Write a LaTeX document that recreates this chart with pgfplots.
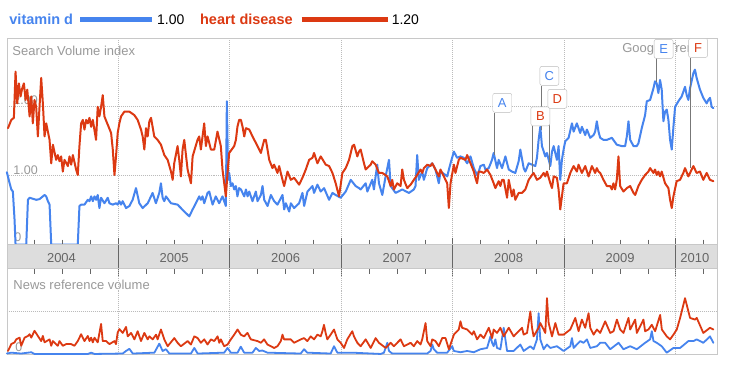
\documentclass[border=0pt]{standalone}
\usepackage{pgfplots}
\pgfplotsset{compat=1.18}
\usepackage{fontspec}
\setmainfont{Liberation Sans}
\definecolor{gblue}{HTML}{4684EE}
\definecolor{gred}{HTML}{DC3912}
\definecolor{gridc}{HTML}{BBBBBB}
\definecolor{framec}{HTML}{C8C8C8}
\definecolor{lblc}{HTML}{999999}
\definecolor{bandc}{HTML}{DDDDDD}
\definecolor{tickc}{HTML}{666666}
\definecolor{polec}{HTML}{777777}
\pgfplotsset{
  gt/.style={scale only axis, width=711.4pt, xmin=2004, xmax=2010.369,
    axis line style={draw=framec}, xticklabels={}, yticklabels={},
    major tick length=0pt, tick style={draw=none}, clip=false},
  ser/.style={line width=2pt, line join=round, line cap=round},
}
\tikzset{yl/.style={anchor=base, inner sep=0, font=\fontsize{13}{15}\selectfont, text=tickc}}
\begin{document}
\begin{tikzpicture}[x=1pt,y=1pt]
\path[fill=white] (0,0) rectangle (732,368);
% legend
\node[anchor=base west, inner sep=0, font=\fontsize{14.5}{16}\selectfont\bfseries, text=gblue] at (8,343) {vitamin d};
\draw[gblue, line width=5pt] (79,348) -- (151,348);
\node[anchor=base west, inner sep=0, font=\fontsize{14}{16}\selectfont] at (156,343) {1.00};
\node[anchor=base west, inner sep=0, font=\fontsize{14.5}{16}\selectfont\bfseries, text=gred] at (199,343) {heart disease};
\draw[gred, line width=5pt] (301,348) -- (387,348);
\node[anchor=base west, inner sep=0, font=\fontsize{14}{16}\selectfont] at (391,343) {1.20};
% panel labels
\node[anchor=base west, inner sep=0, font=\fontsize{13}{15}\selectfont, text=lblc] at (11,312) {Search Volume index};
\node[anchor=base west, inner sep=0, font=\fontsize{12.5}{15}\selectfont, text=lblc] at (12,263) {2.00};
\node[anchor=base west, inner sep=0, font=\fontsize{12.5}{15}\selectfont, text=lblc] at (12,193) {1.00};
\node[anchor=base west, inner sep=0, font=\fontsize{12.5}{15}\selectfont, text=lblc] at (13,126) {0};
\node[anchor=base west, inner sep=0, font=\fontsize{13}{15}\selectfont, text=lblc] at (12,78) {News reference volume};
\node[anchor=base west, inner sep=0, font=\fontsize{12.5}{15}\selectfont, text=lblc] at (14,16) {0};
\node[anchor=base west, inner sep=0, font=\fontsize{13}{15}\selectfont, text=lblc] at (622,315) {Google Trends};

% ---------------- main panel ----------------
\begin{axis}[gt, at={(5.6pt,123pt)}, anchor=south west, height=207pt,
  ymin=0, ymax=3, xtick={2005,2006,2007,2008,2009,2010}, ytick={1,2},
  grid=major, major grid style={draw=gridc, line width=0.8pt, dash pattern=on 1pt off 1pt}]
% vitamin d
\addplot[ser, gblue] coordinates {
(2004.000,1.05)(2004.025,0.89)(2004.040,0.80)(2004.054,0.77)(2004.069,0.36)(2004.078,0)(2004.174,0)(2004.189,0.65)(2004.204,0.68)(2004.263,0.65)(2004.293,0.66)(2004.323,0.70)(2004.338,0.72)(2004.353,0.70)(2004.368,0.63)(2004.383,0.58)(2004.398,0)(2004.636,0)(2004.651,0.56)(2004.666,0.58)(2004.696,0.58)(2004.726,0.65)(2004.741,0.63)(2004.756,0.70)(2004.771,0.63)(2004.786,0.70)(2004.800,0.65)(2004.815,0.72)(2004.830,0.53)(2004.845,0.68)(2004.875,0.60)(2004.905,0.68)(2004.920,0.60)(2004.950,0.58)(2004.979,0.60)(2004.994,0.58)(2005.009,0.63)
(2005.024,0.58)(2005.039,0.63)(2005.069,0.53)(2005.099,0.56)(2005.128,0.65)(2005.158,0.82)(2005.188,0.60)(2005.218,0.53)(2005.263,0.60)(2005.293,0.70)(2005.307,0.75)(2005.337,0.60)(2005.367,0.75)(2005.382,0.89)(2005.397,0.68)(2005.412,0.63)(2005.427,0.70)(2005.472,0.60)(2005.531,0.58)(2005.561,0.53)(2005.591,0.48)(2005.636,0.41)(2005.666,0.51)(2005.695,0.60)(2005.725,0.70)(2005.740,0.65)(2005.755,0.70)(2005.770,0.60)(2005.800,0.75)(2005.815,0.77)(2005.845,0.58)(2005.874,0.70)(2005.904,0.60)(2005.934,0.70)(2005.964,0.56)(2005.973,2.08)(2005.985,0.94)(2005.994,1.04)(2006.009,0.85)(2006.024,0.89)(2006.039,0.80)(2006.054,0.85)(2006.068,0.70)(2006.083,0.82)
(2006.099,0.80)(2006.129,0.70)(2006.144,0.80)(2006.159,0.70)(2006.174,0.77)(2006.203,0.63)(2006.233,0.77)(2006.248,0.63)(2006.278,0.72)(2006.293,0.85)(2006.308,0.65)(2006.338,0.56)(2006.368,0.72)(2006.397,0.63)(2006.427,0.58)(2006.472,0.72)(2006.487,0.51)(2006.502,0.60)(2006.532,0.48)(2006.547,0.60)(2006.576,0.53)(2006.621,0.60)(2006.651,0.75)(2006.666,0.56)(2006.696,0.77)(2006.741,0.85)(2006.755,0.75)(2006.785,0.87)(2006.815,0.77)(2006.845,0.82)(2006.890,0.65)(2006.920,0.75)(2006.949,0.72)(2006.994,0.68)(2007.039,0.77)(2007.084,0.94)(2007.128,0.85)(2007.158,0.82)
(2007.173,0.80)(2007.218,0.89)(2007.233,0.77)(2007.277,0.94)(2007.292,0.80)(2007.307,0.99)(2007.322,1.16)(2007.337,0.89)(2007.367,0.72)(2007.397,0.99)(2007.427,1.23)(2007.442,0.85)(2007.486,0.75)(2007.546,0.80)(2007.606,0.75)(2007.650,0.80)(2007.665,0.85)(2007.680,1.30)(2007.695,0.94)(2007.725,1.06)(2007.740,0.94)(2007.770,1.11)(2007.815,1.18)(2007.844,1.09)(2007.874,0.89)(2007.889,1.06)(2007.934,1.01)(2007.949,0.99)(2007.979,1.18)(2008.009,1.35)(2008.038,1.26)(2008.068,1.28)(2008.098,1.26)(2008.128,1.18)(2008.158,1.28)(2008.188,1.11)(2008.217,1.01)(2008.232,1.06)
(2008.247,1.14)(2008.277,1.16)(2008.292,1.09)(2008.322,1.11)(2008.351,1.23)(2008.366,1.33)(2008.396,1.11)(2008.411,1.23)(2008.441,1.11)(2008.471,1.28)(2008.501,1.09)(2008.530,1.06)(2008.560,1.04)(2008.590,1.21)(2008.605,1.38)(2008.635,1.11)(2008.650,1.06)(2008.680,1.18)(2008.710,1.16)(2008.739,1.14)(2008.754,1.26)(2008.769,1.52)(2008.784,1.71)(2008.799,1.43)(2008.829,1.28)(2008.844,1.33)(2008.874,1.14)(2008.889,1.35)(2008.904,1.43)(2008.933,1.23)(2008.948,1.43)(2008.963,0.94)(2008.978,1.23)(2008.993,1.38)(2009.008,1.50)(2009.038,1.55)(2009.068,1.76)(2009.083,1.64)(2009.112,1.76)(2009.142,1.62)(2009.157,1.71)(2009.187,1.59)(2009.202,1.67)(2009.232,1.55)(2009.262,1.59)(2009.276,1.64)(2009.291,1.79)(2009.306,1.64)
(2009.321,1.55)(2009.351,1.52)(2009.381,1.52)(2009.426,1.55)(2009.470,1.45)(2009.515,1.43)(2009.545,1.43)(2009.560,1.57)(2009.575,1.79)(2009.590,1.52)(2009.620,1.43)(2009.649,1.43)(2009.664,1.47)(2009.694,1.69)(2009.724,1.88)(2009.739,2.08)(2009.769,2.10)(2009.799,2.27)(2009.813,2.37)(2009.828,2.34)(2009.843,2.20)(2009.858,2.39)(2009.873,2.25)(2009.888,1.79)(2009.903,1.93)(2009.918,1.96)(2009.933,1.81)(2009.948,1.52)(2009.963,1.38)(2009.978,1.71)(2009.993,2.00)(2010.022,2.08)(2010.052,2.15)(2010.082,2.29)(2010.097,2.17)(2010.112,2.10)(2010.127,2.27)(2010.157,2.49)(2010.171,2.54)(2010.186,2.42)(2010.216,2.25)(2010.246,2.13)(2010.276,2.05)(2010.291,2.10)(2010.306,2.13)(2010.321,2.00)(2010.336,1.98)
};
% heart disease
\addplot[ser, gred] coordinates {
(2004.010,1.69)(2004.040,1.81)(2004.063,1.84)(2004.078,2.51)(2004.093,2.05)(2004.108,2.34)(2004.123,2.15)(2004.138,2.27)(2004.153,2.34)(2004.168,2.10)(2004.183,2.25)(2004.204,1.86)(2004.219,2.15)(2004.233,1.76)(2004.248,2.10)(2004.263,2.00)(2004.278,1.57)(2004.293,2.00)(2004.308,2.42)(2004.323,2.05)(2004.338,1.57)(2004.353,1.76)(2004.383,1.52)(2004.398,1.18)(2004.413,1.45)(2004.442,1.23)(2004.457,1.30)(2004.472,1.21)(2004.487,1.28)(2004.502,1.06)(2004.517,1.23)(2004.547,1.14)(2004.562,1.28)(2004.577,1.16)(2004.592,1.30)(2004.621,1.09)(2004.636,1.01)(2004.651,1.43)(2004.666,1.76)(2004.681,1.81)(2004.696,1.67)(2004.711,1.81)(2004.726,1.76)(2004.741,1.84)(2004.756,1.71)(2004.771,1.81)(2004.800,1.52)(2004.815,2.00)(2004.830,1.86)(2004.845,2.00)(2004.860,2.17)(2004.875,1.86)(2004.905,1.74)(2004.935,1.62)(2004.950,1.38)(2004.965,1.01)(2004.979,1.28)(2004.994,1.62)(2005.009,1.76)
(2005.024,1.86)(2005.054,1.93)(2005.099,1.93)(2005.143,1.88)(2005.173,1.81)(2005.203,1.67)(2005.218,1.57)(2005.233,1.38)(2005.248,1.69)(2005.263,1.57)(2005.278,1.79)(2005.293,1.84)(2005.322,1.57)(2005.352,1.52)(2005.382,1.45)(2005.412,1.30)(2005.442,1.23)(2005.472,1.06)(2005.487,0.94)(2005.501,1.18)(2005.531,1.43)(2005.546,1.23)(2005.561,0.99)(2005.576,1.38)(2005.591,1.52)(2005.621,1.09)(2005.651,0.89)(2005.666,1.28)(2005.710,1.52)(2005.725,1.57)(2005.740,1.38)(2005.770,1.76)(2005.785,1.43)(2005.800,1.57)(2005.830,1.38)(2005.860,1.38)(2005.889,1.64)(2005.919,1.43)(2005.934,1.09)(2005.964,0.70)(2005.979,1.04)(2005.994,1.33)(2006.039,1.43)(2006.054,1.52)(2006.068,1.71)(2006.083,1.81)
(2006.099,1.81)(2006.114,1.71)(2006.129,1.57)(2006.144,1.69)(2006.174,1.67)(2006.203,1.57)(2006.248,1.43)(2006.278,1.33)(2006.308,1.52)(2006.323,1.52)(2006.353,1.23)(2006.382,1.11)(2006.397,1.16)(2006.427,1.04)(2006.442,1.14)(2006.472,0.94)(2006.487,0.85)(2006.517,1.06)(2006.547,0.94)(2006.576,0.97)(2006.621,0.87)(2006.651,0.97)(2006.681,1.09)(2006.711,1.23)(2006.741,1.26)(2006.755,1.33)(2006.785,1.18)(2006.815,1.28)(2006.860,1.16)(2006.890,1.14)(2006.920,1.04)(2006.949,0.89)(2006.979,0.70)(2007.009,1.04)(2007.039,1.11)(2007.069,1.23)(2007.099,1.43)(2007.114,1.45)(2007.143,1.28)(2007.158,1.35)
(2007.173,1.38)(2007.203,1.18)(2007.218,1.09)(2007.263,1.16)(2007.277,1.21)(2007.307,1.16)(2007.337,1.04)(2007.367,1.04)(2007.412,0.99)(2007.442,0.85)(2007.456,0.94)(2007.471,0.80)(2007.501,0.89)(2007.531,0.85)(2007.546,1.09)(2007.561,0.94)(2007.591,0.82)(2007.621,0.87)(2007.650,0.94)(2007.680,1.01)(2007.710,1.09)(2007.725,1.04)(2007.740,1.11)(2007.770,1.16)(2007.800,1.14)(2007.815,1.18)(2007.844,1.09)(2007.874,0.99)(2007.889,1.09)(2007.919,0.99)(2007.949,0.89)(2007.964,0.53)(2007.979,0.89)(2008.009,1.16)(2008.023,1.04)(2008.053,1.23)(2008.068,1.26)(2008.113,1.23)(2008.128,1.30)(2008.158,1.18)(2008.188,1.06)(2008.202,0.97)(2008.217,0.89)(2008.232,1.06)
(2008.247,1.06)(2008.277,1.04)(2008.307,1.09)(2008.337,1.01)(2008.366,0.89)(2008.381,0.82)(2008.411,0.92)(2008.426,0.85)(2008.441,0.94)(2008.456,0.94)(2008.486,0.68)(2008.501,0.94)(2008.530,0.70)(2008.545,0.80)(2008.560,0.65)(2008.590,0.75)(2008.620,0.75)(2008.650,0.80)(2008.680,0.94)(2008.710,1.01)(2008.724,1.04)(2008.754,0.94)(2008.784,0.97)(2008.814,1.04)(2008.829,0.99)(2008.844,1.06)(2008.874,0.89)(2008.889,0.82)(2008.904,0.99)(2008.933,0.97)(2008.948,0.80)(2008.963,0.51)(2008.978,0.70)(2008.993,0.89)(2009.023,0.89)(2009.053,1.04)(2009.083,1.14)(2009.112,1.06)(2009.127,1.16)(2009.157,1.04)(2009.187,1.14)(2009.217,0.99)(2009.247,1.14)(2009.276,1.04)(2009.291,1.11)(2009.306,1.06)
(2009.321,1.04)(2009.351,0.94)(2009.381,0.85)(2009.411,0.85)(2009.426,0.80)(2009.440,0.89)(2009.455,0.80)(2009.470,0.94)(2009.485,1.28)(2009.500,0.85)(2009.530,0.77)(2009.560,0.82)(2009.590,0.85)(2009.620,0.75)(2009.635,0.72)(2009.664,0.85)(2009.694,0.94)(2009.724,1.01)(2009.754,1.06)(2009.769,1.11)(2009.799,1.04)(2009.813,1.09)(2009.828,1.01)(2009.843,1.06)(2009.858,0.99)(2009.873,1.06)(2009.903,0.89)(2009.933,0.82)(2009.948,0.65)(2009.963,0.53)(2009.978,0.70)(2010.007,0.92)(2010.037,0.94)(2010.067,1.04)(2010.082,1.11)(2010.112,0.99)(2010.157,1.14)(2010.186,1.04)(2010.216,1.06)(2010.246,0.94)(2010.276,1.04)(2010.306,0.94)(2010.336,0.92)
};
% event flags
\tikzset{flag/.style={draw=gridc, fill=white, rounded corners=2pt, minimum width=19pt, minimum height=19pt, inner sep=0pt, font=\fontsize{13}{15}\selectfont}}
\draw[polec, line width=0.8pt] (axis cs:2008.372,1.913) -- (axis cs:2008.372,1.304);
\draw[polec, line width=0.8pt] (axis cs:2008.794,2.304) -- (axis cs:2008.794,1.667);
\draw[polec, line width=0.8pt] (axis cs:2008.713,1.725) -- (axis cs:2008.713,1.043);
\draw[polec, line width=0.8pt] (axis cs:2008.865,1.971) -- (axis cs:2008.865,1.087);
\draw[polec, line width=0.8pt] (axis cs:2009.823,2.710) -- (axis cs:2009.823,2.362);
\draw[polec, line width=0.8pt] (axis cs:2010.127,2.710) -- (axis cs:2010.127,1.116);
\node[flag, text=gblue] at (axis cs:2008.443,2.058) {A};
\node[flag, text=gblue] at (axis cs:2008.865,2.449) {C};
\node[flag, text=gred] at (axis cs:2008.785,1.862) {B};
\node[flag, text=gred] at (axis cs:2008.937,2.116) {D};
\node[flag, text=gblue] at (axis cs:2009.890,2.841) {E};
\node[flag, text=gred] at (axis cs:2010.199,2.855) {F};
\end{axis}

% ---------------- year band ----------------
\begin{axis}[scale only axis, width=711.4pt, xmin=2004, xmax=2010.369,
  at={(5.6pt,99pt)}, anchor=south west, height=24pt, ymin=0, ymax=1,
  ytick=\empty, xtick={2005,2006,2007,2008,2009,2010},
  minor xtick={2004.25,2004.5,2004.75,2005.25,2005.5,2005.75,2006.25,2006.5,2006.75,2007.25,2007.5,2007.75,2008.25,2008.5,2008.75,2009.25,2009.5,2009.75,2010.25},
  xticklabels={}, xtick pos=both, tick align=outside,
  major tick length=7pt, minor tick length=5pt,
  tick style={draw=tickc, line width=0.8pt},
  xmajorgrids, major grid style={draw=tickc, line width=0.8pt, solid},
  axis background/.style={fill=bandc}, axis line style={draw=framec}, clip=false]
\addplot[draw=none] coordinates {(2004.5,0.5)};
\node[yl] at (axis cs:2004.49,0.25) {2004};
\node[yl] at (axis cs:2005.5,0.25) {2005};
\node[yl] at (axis cs:2006.5,0.25) {2006};
\node[yl] at (axis cs:2007.5,0.25) {2007};
\node[yl] at (axis cs:2008.5,0.25) {2008};
\node[yl] at (axis cs:2009.5,0.25) {2009};
\node[yl] at (axis cs:2010.17,0.25) {2010};
\end{axis}

% ---------------- news panel ----------------
\begin{axis}[gt, at={(5.6pt,13pt)}, anchor=south west, height=86pt,
  ymin=0, ymax=2, xtick={2005,2006,2007,2008,2009,2010}, ytick={1},
  grid=major, major grid style={draw=gridc, line width=0.8pt, dash pattern=on 1pt off 1pt}]
\addplot[ser, gblue, line width=1.8pt] coordinates {
(2004.000,0.02)(2004.040,0.04)(2004.129,0.02)(2004.219,0.05)(2004.248,0.01)(2004.726,0.01)(2004.756,0.04)(2004.786,0.01)(2005.039,0.02)(2005.069,0.08)(2005.099,0.13)(2005.129,0.02)(2005.323,0.04)(2005.367,0.25)(2005.397,0.08)(2005.427,0.12)(2005.457,0.02)(2005.651,0.02)(2005.681,0.15)(2005.711,0.02)(2005.949,0.04)(2005.979,0.15)(2006.009,0.04)(2006.069,0.04)(2006.098,0.18)(2006.128,0.04)(2006.203,0.04)(2006.233,0.15)(2006.263,0.08)(2006.292,0.09)(2006.337,0.04)(2006.636,0.02)(2006.665,0.12)(2006.695,0.04)(2006.904,0.02)(2006.934,0.19)(2006.964,0.04)(2007.098,0.04)(2007.352,0.01)(2007.382,0.04)(2007.412,0.27)(2007.427,0.08)(2007.456,0.02)(2007.770,0.02)(2007.800,0.08)(2007.815,0.23)(2007.829,0.12)(2007.859,0.04)(2007.949,0.04)(2007.994,0.19)(2008.009,0.08)(2008.068,0.05)(2008.128,0.08)(2008.188,0.05)(2008.247,0.12)(2008.307,0.15)(2008.337,0.42)(2008.352,0.27)(2008.366,0.19)(2008.381,0.35)(2008.396,0.15)(2008.426,0.12)(2008.456,0.62)(2008.471,0.35)(2008.486,0.08)(2008.545,0.08)(2008.605,0.23)(2008.635,0.08)(2008.695,0.19)(2008.724,0.12)(2008.754,0.35)(2008.769,0.96)(2008.784,0.35)(2008.814,0.12)(2008.844,0.23)(2008.874,0.15)(2008.933,0.19)(2008.993,0.08)(2009.053,0.19)(2009.068,0.38)(2009.083,0.15)(2009.142,0.31)(2009.172,0.27)(2009.202,0.35)(2009.232,0.15)(2009.292,0.19)(2009.321,0.27)(2009.366,0.27)(2009.411,0.12)(2009.486,0.27)(2009.530,0.12)(2009.590,0.19)(2009.650,0.12)(2009.724,0.27)(2009.769,0.35)(2009.784,0.54)(2009.799,0.31)(2009.829,0.27)(2009.873,0.19)(2009.918,0.04)(2009.978,0.15)(2010.038,0.15)(2010.112,0.31)(2010.157,0.31)(2010.187,0.35)(2010.246,0.27)(2010.291,0.38)(2010.306,0.42)(2010.336,0.27)
};
\addplot[ser, gred, line width=1.8pt] coordinates {
(2004.010,0.08)(2004.040,0.24)(2004.069,0.28)(2004.084,0.35)(2004.114,0.39)(2004.129,0.20)(2004.159,0.39)(2004.189,0.43)(2004.204,0.47)(2004.219,0.39)(2004.248,0.55)(2004.278,0.43)(2004.308,0.31)(2004.323,0.43)(2004.338,0.28)(2004.383,0.35)(2004.398,0.20)(2004.413,0.31)(2004.457,0.20)(2004.472,0.31)(2004.502,0.20)(2004.532,0.24)(2004.577,0.24)(2004.606,0.20)(2004.636,0.31)(2004.666,0.47)(2004.696,0.31)(2004.726,0.43)(2004.741,0.31)(2004.756,0.39)(2004.771,0.28)(2004.786,0.39)(2004.815,0.28)(2004.845,0.71)(2004.860,0.31)(2004.890,0.31)(2004.920,0.24)(2004.965,0.31)(2004.979,0.24)(2004.994,0.51)(2005.009,0.59)
(2005.039,0.50)(2005.069,0.64)(2005.084,0.42)(2005.114,0.50)(2005.144,0.35)(2005.173,0.54)(2005.203,0.31)(2005.233,0.50)(2005.263,0.35)(2005.278,0.42)(2005.308,0.35)(2005.338,0.46)(2005.352,0.35)(2005.382,0.58)(2005.412,0.35)(2005.442,0.19)(2005.502,0.38)(2005.531,0.27)(2005.561,0.19)(2005.621,0.31)(2005.651,0.23)(2005.681,0.42)(2005.711,0.38)(2005.740,0.27)(2005.770,0.35)(2005.800,0.23)(2005.830,0.35)(2005.860,0.31)(2005.890,0.42)(2005.905,0.27)(2005.919,0.35)(2005.949,0.19)(2005.979,0.23)(2006.009,0.35)(2006.039,0.46)(2006.069,0.58)(2006.098,0.46)(2006.128,0.42)(2006.158,0.50)(2006.188,0.35)(2006.248,0.31)(2006.278,0.27)(2006.307,0.35)(2006.337,0.23)(2006.397,0.15)(2006.427,0.19)(2006.457,0.31)(2006.472,0.46)(2006.486,0.35)(2006.546,0.35)(2006.576,0.27)(2006.636,0.35)(2006.665,0.38)(2006.695,0.31)(2006.725,0.42)(2006.755,0.35)(2006.785,0.46)(2006.815,0.42)(2006.830,0.54)(2006.844,0.69)(2006.859,0.50)(2006.874,0.35)(2006.904,0.46)(2006.934,0.58)(2006.964,0.35)(2006.994,0.27)(2007.024,0.15)(2007.053,0.35)(2007.098,0.54)(2007.113,0.42)(2007.143,0.27)
(2007.173,0.19)(2007.218,0.35)(2007.263,0.15)(2007.307,0.38)(2007.337,0.27)(2007.397,0.15)(2007.442,0.27)(2007.471,0.19)(2007.531,0.35)(2007.561,0.19)(2007.621,0.27)(2007.650,0.19)(2007.680,0.31)(2007.710,0.23)(2007.725,0.35)(2007.755,0.73)(2007.770,0.31)(2007.800,0.19)(2007.815,0.35)(2007.844,0.31)(2007.874,0.19)(2007.904,0.38)(2007.934,0.38)(2007.964,0.12)(2008.009,0.46)(2008.023,0.50)(2008.053,0.58)(2008.068,0.77)(2008.083,0.62)(2008.128,0.58)(2008.173,0.46)(2008.188,0.54)(2008.217,0.35)(2008.247,0.46)(2008.277,0.38)(2008.322,0.62)(2008.352,0.38)(2008.366,0.58)(2008.396,0.50)(2008.426,0.62)(2008.456,0.42)(2008.501,0.62)(2008.545,0.42)(2008.575,0.50)(2008.620,0.62)(2008.635,0.46)(2008.665,0.50)(2008.695,1.00)(2008.710,0.62)(2008.724,0.42)(2008.769,0.62)(2008.784,0.73)(2008.814,0.58)(2008.829,0.50)(2008.844,1.31)(2008.859,0.73)(2008.889,0.42)(2008.919,0.73)(2008.948,0.46)(2008.993,0.46)(2009.053,0.58)(2009.098,0.85)(2009.127,0.54)(2009.157,0.81)(2009.187,0.62)(2009.217,0.96)(2009.232,0.62)(2009.262,0.46)(2009.292,0.58)(2009.321,0.50)(2009.366,0.77)(2009.411,0.50)(2009.441,0.54)(2009.471,0.81)(2009.500,0.58)(2009.530,0.50)(2009.575,0.85)(2009.590,0.58)(2009.635,0.81)(2009.650,0.50)(2009.709,0.81)(2009.724,0.54)(2009.754,0.58)(2009.784,0.69)(2009.814,0.54)(2009.859,0.92)(2009.874,0.58)(2009.918,0.42)(2009.948,0.35)(2009.978,0.46)(2010.008,0.58)(2010.038,0.85)(2010.082,1.31)(2010.127,0.85)(2010.172,0.81)(2010.187,0.85)(2010.246,0.50)(2010.306,0.62)(2010.336,0.58)
};
\end{axis}
\end{tikzpicture}
\end{document}
